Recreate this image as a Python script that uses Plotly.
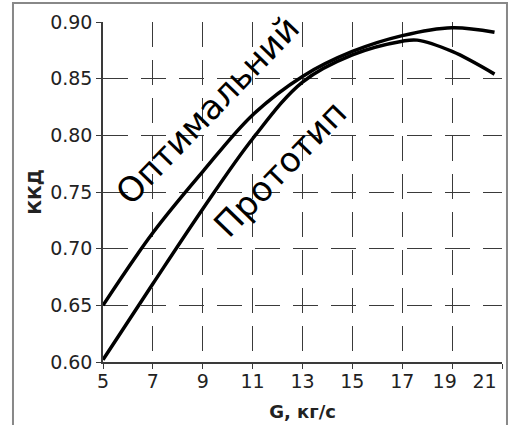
import plotly.graph_objects as go

# Data
g_opt = [5, 7, 9, 11, 13, 15, 17, 19, 20.7]
kkd_opt = [0.650, 0.714, 0.768, 0.818, 0.852, 0.874, 0.888, 0.895, 0.891]

g_proto = [5, 7, 9, 11, 13, 15, 17, 17.6, 19, 20.7]
kkd_proto = [0.602, 0.669, 0.735, 0.797, 0.847, 0.871, 0.883, 0.884, 0.874, 0.854]

x_ticks = [5, 7, 9, 11, 13, 15, 17, 19, 21]
x_label_pos = [5, 7, 9, 11, 13, 15, 17, 18.7, 20.3]
x_tick_labels = ["5", "7", "9", "11", "13", "15", "17", "19", "21"]
y_ticks = [0.60, 0.65, 0.70, 0.75, 0.80, 0.85, 0.90]
y_tick_labels = ["0.60", "0.65", "0.70", "0.75", "0.80", "0.85", "0.90"]

FONT = "DejaVu Sans"
GRID = "#3a3a3a"

fig = go.Figure()
fig.add_trace(go.Scatter(x=g_opt, y=kkd_opt, mode="lines", line=dict(color="black", width=3.5, shape="spline"),
                         name="Оптимальний", showlegend=False))
fig.add_trace(go.Scatter(x=g_proto, y=kkd_proto, mode="lines", line=dict(color="black", width=3.5, shape="spline"),
                         name="Прототип", showlegend=False))
fig.add_trace(go.Scatter(x=x_label_pos, y=[None] * len(x_label_pos), xaxis="x2", mode="lines",
                         showlegend=False, hoverinfo="skip"))

fig.update_layout(
    width=512, height=425,
    margin=dict(l=103, r=10, t=22, b=63),
    paper_bgcolor="white", plot_bgcolor="white",
    font=dict(family=FONT, color="#222"),
    xaxis=dict(range=[5, 21], tickvals=x_ticks, showticklabels=False,
               ticks="outside", ticklen=5, tickcolor=GRID, tickwidth=1.2,
               showgrid=True, gridcolor=GRID, gridwidth=1.2, griddash="25px,13px",
               showline=True, linecolor=GRID, linewidth=1.5, zeroline=False, automargin=False),
    xaxis2=dict(range=[5, 21], overlaying="x", side="bottom", tickvals=x_label_pos, ticktext=x_tick_labels,
                ticks="", showgrid=False, showline=False, zeroline=False, ticklabelstandoff=6,
                tickfont=dict(family=FONT, size=19, color="#222"),
                title=dict(text="<b>G, кг/с</b>", font=dict(family=FONT, size=18, color="#222"), standoff=14),
                automargin=False),
    yaxis=dict(range=[0.60, 0.90], tickvals=y_ticks, ticktext=y_tick_labels,
               ticks="outside", ticklen=5, tickcolor=GRID, tickwidth=1.2,
               tickfont=dict(family=FONT, size=19, color="#222"),
               showgrid=True, gridcolor=GRID, gridwidth=1.2, griddash="25px,13px",
               showline=True, linecolor=GRID, linewidth=1.5, zeroline=False, automargin=False,
               title=dict(text="<b>ККД</b>", font=dict(family=FONT, size=18, color="#222"), standoff=4)),
)

fig.add_annotation(x=9.2, y=0.822, text="Оптимальний", textangle=-46, showarrow=False,
                   font=dict(family=FONT, size=34, color="black"))
fig.add_annotation(x=12.1, y=0.770, text="Прототип", textangle=-46, showarrow=False,
                   font=dict(family=FONT, size=34, color="black"))

fig.add_shape(type="rect", xref="paper", yref="paper", x0=-0.2256, x1=1.0125, y0=-0.25, y1=1.056,
              line=dict(color="#888", width=2), layer="below")

fig.write_html("out.html")
